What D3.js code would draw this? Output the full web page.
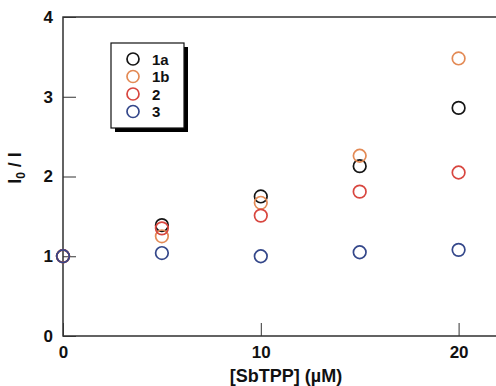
<!DOCTYPE html>
<html lang="en">
<head>
    <meta charset="UTF-8">
    <title>I0/I vs SbTPP</title>
    <style>
        body, html { margin: 0; padding: 0; background: #fff; }
        svg { display: block; }
    </style>
    <script src="https://d3js.org/d3.v7.min.js"></script>
</head>
<body>
<div id="chart"></div>
<script>
    // concentration of SbTPP (µM)
    const conc = [0, 5, 10, 15, 20];
    const seriesNames = ['1a', '1b', '2', '3'];
    const seriesColors = ['#151515', '#e38a55', '#d8463f', '#34478a'];
    const values1a = [1.0, 1.39, 1.75, 2.13, 2.86];
    const values1b = [1.0, 1.25, 1.67, 2.26, 3.48];
    const values2 = [1.0, 1.35, 1.51, 1.81, 2.05];
    const values3 = [1.0, 1.04, 1.0, 1.05, 1.08];
    const xTicks = [0, 10, 20];
    const yTicks = [0, 1, 2, 3, 4];

    const width = 496, height = 386;
    const margin = {left: 63, top: 17, bottom: 50};
    const svg = d3.select('#chart').append('svg')
        .attr('width', width).attr('height', height);

    const x = d3.scaleLinear().domain([0, 22]).range([margin.left, margin.left + 22 * 19.78]);
    const y = d3.scaleLinear().domain([0, 4]).range([height - margin.bottom, margin.top]);

    const font = 'Liberation Sans, Arial, sans-serif';

    // frame
    svg.append('rect')
        .attr('x', x(0)).attr('y', y(4))
        .attr('width', x(22) - x(0)).attr('height', y(0) - y(4))
        .attr('fill', 'none').attr('stroke', '#222').attr('stroke-width', 1.4);

    const xAxis = svg.append('g')
        .attr('transform', `translate(0,${y(0)})`)
        .call(d3.axisBottom(x).tickValues(xTicks).tickFormat(d3.format('d'))
            .tickSizeInner(-13).tickSizeOuter(0).tickPadding(10));
    xAxis.select('.domain').remove();
    xAxis.selectAll('line').attr('stroke', '#333');
    xAxis.selectAll('text').attr('font-family', font).attr('font-size', 17)
        .attr('font-weight', 'bold').attr('fill', '#111');

    const yAxis = svg.append('g')
        .attr('transform', `translate(${x(0)},0)`)
        .call(d3.axisLeft(y).tickValues(yTicks).tickFormat(d3.format('d'))
            .tickSizeInner(-13).tickSizeOuter(0).tickPadding(10));
    yAxis.select('.domain').remove();
    yAxis.selectAll('line').attr('stroke', '#333');
    yAxis.selectAll('text').attr('font-family', font).attr('font-size', 17)
        .attr('font-weight', 'bold').attr('fill', '#111');

    // axis titles
    svg.append('text')
        .attr('x', 286).attr('y', 382)
        .attr('text-anchor', 'middle')
        .attr('font-family', font).attr('font-size', 18).attr('font-weight', 'bold')
        .attr('fill', '#111')
        .text('[SbTPP] (µM)');

    const yl = svg.append('text')
        .attr('transform', 'translate(21,168) rotate(-90)')
        .attr('text-anchor', 'middle')
        .attr('font-family', font).attr('font-size', 18).attr('font-weight', 'bold')
        .attr('fill', '#111');
    yl.append('tspan').text('I');
    yl.append('tspan').attr('font-size', 12).attr('dy', 4).text('0');
    yl.append('tspan').attr('dy', -4).text(' / I');

    // data markers
    const allSeries = [values1a, values1b, values2, values3];
    allSeries.forEach((vals, s) => {
        svg.append('g').selectAll('circle')
            .data(vals)
            .enter()
            .append('circle')
            .attr('cx', (d, i) => x(conc[i]))
            .attr('cy', d => y(d))
            .attr('r', 6.3)
            .attr('fill', 'none')
            .attr('stroke', seriesColors[s])
            .attr('stroke-width', 1.7);
    });

    // legend
    const lg = svg.append('g').attr('transform', 'translate(111,43)');
    lg.append('rect').attr('x', 4).attr('y', 4).attr('width', 73).attr('height', 85).attr('fill', '#000');
    lg.append('rect').attr('x', 0).attr('y', 0).attr('width', 73).attr('height', 85)
        .attr('fill', '#fff').attr('stroke', '#111').attr('stroke-width', 1.2);
    seriesNames.forEach((n, i) => {
        const row = lg.append('g').attr('transform', `translate(0,${16 + i * 17.5})`);
        row.append('circle').attr('cx', 22).attr('cy', 0).attr('r', 6)
            .attr('fill', 'none').attr('stroke', seriesColors[i]).attr('stroke-width', 1.7);
        row.append('text').attr('x', 41).attr('y', 5.5)
            .attr('font-family', font).attr('font-size', 15).attr('font-weight', 'bold')
            .attr('fill', '#111').text(n);
    });
</script>
</body>
</html>
